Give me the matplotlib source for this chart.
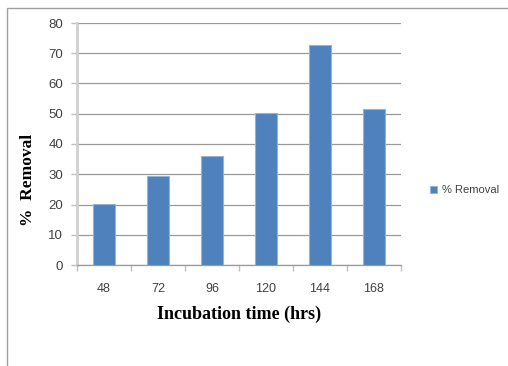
import matplotlib
matplotlib.use("Agg")
import matplotlib.pyplot as plt
from matplotlib.patches import Rectangle
import numpy as np

categories = ["48", "72", "96", "120", "144", "168"]
removal = [20.3, 29.5, 35.9, 50.3, 72.8, 51.6]
yticks = [0, 10, 20, 30, 40, 50, 60, 70, 80]

W, H = 508, 366
fig = plt.figure(figsize=(W / 100, H / 100), dpi=100)
fig.patch.set_facecolor("white")

# outer frame
fig.add_artist(Rectangle((7 / W, -0.05), 1.2, (H - 8) / H + 0.05, transform=fig.transFigure,
                         fill=False, edgecolor="#a0a0a0", linewidth=1.0))

left, right, top, bottom = 77, 401, 23, 265
ax = fig.add_axes([left / W, 1 - bottom / H, (right - left) / W, (bottom - top) / H])

x = np.arange(len(categories))
ax.bar(x, removal, width=0.41, color="#4f81bd", edgecolor="#95b3d7", linewidth=0.8,
       label="% Removal", zorder=3)

ax.set_xlim(-0.5, len(categories) - 0.5)
ax.set_ylim(0, 80)
ax.set_yticks(yticks)
ax.yaxis.grid(True, color="#9a9a9a", linewidth=0.9, zorder=0)
ax.set_axisbelow(True)

for s in ["top", "right"]:
    ax.spines[s].set_visible(False)
ax.spines["left"].set_color("#d0d0d0")
ax.spines["left"].set_linewidth(2)
ax.spines["bottom"].set_color("#9a9a9a")
ax.spines["bottom"].set_linewidth(0.9)

ax.set_xticks(x)
ax.set_xticklabels(categories)
ax.set_xticks(np.arange(-0.5, len(categories)), minor=True)
ax.tick_params(axis="x", which="major", length=0, pad=13, labelsize=9, labelcolor="#404040")
ax.tick_params(axis="x", which="minor", length=4, color="#c0c0c0", width=1)
ax.tick_params(axis="y", length=4, color="#c0c0c0", width=1, pad=6, labelsize=9.5, labelcolor="#404040")
for lab in ax.get_yticklabels() + ax.get_xticklabels():
    lab.set_family("Liberation Sans")

ax.set_xlabel("Incubation time (hrs)", family="Liberation Serif", fontweight="bold",
              fontsize=13, labelpad=8)
fig.text(28 / W, 1 - 180 / H, "%  Removal", family="Liberation Serif", fontweight="bold",
         fontsize=12.5, rotation=90, ha="center", va="center")

ax.legend(loc="center left", bbox_to_anchor=(1.06, 0.31), frameon=False,
          prop={"family": "Liberation Sans", "size": 8}, handlelength=0.6, handleheight=0.6,
          handletextpad=0.4, labelcolor="#404040")

fig.savefig("out.png", dpi=100, facecolor="white")
